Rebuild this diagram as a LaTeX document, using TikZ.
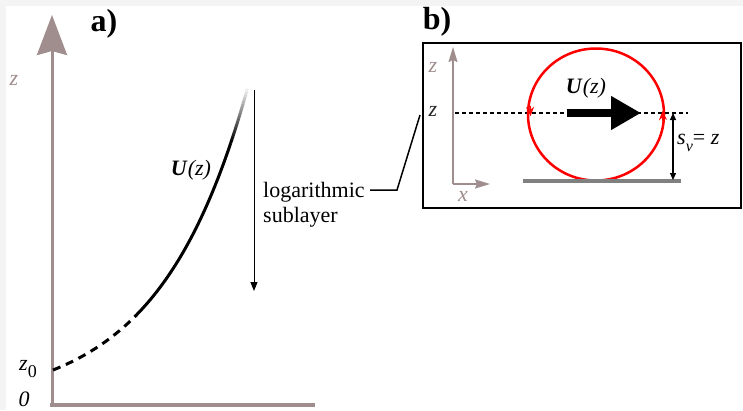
\documentclass[tikz,border=0pt]{standalone}
\usepackage{fontspec}
\setmainfont{Liberation Serif}
\usetikzlibrary{arrows.meta}
\definecolor{axisgray}{RGB}{160,142,142}
\definecolor{bggray}{RGB}{244,244,244}
\definecolor{groundgray}{RGB}{128,128,128}
\begin{document}
\begin{tikzpicture}[x=1pt,y=-1pt,
  lbl/.style={inner sep=0pt, font=\fontsize{22}{26}\selectfont},
  panel/.style={inner sep=0pt, font=\fontsize{32}{36}\selectfont\bfseries},
  curve/.style={line width=3pt},
  axisbig/.style={axisgray, line width=3pt},
  axissmall/.style={axisgray, line width=1.5pt, -{Stealth[length=15pt,width=9pt,inset=2pt]}},
  thinarrow/.style={line width=1pt, -{Triangle[length=9pt,width=7pt]}},
  leader/.style={line width=1.5pt},
  flowarrow/.style={line width=8pt, -{Triangle[length=30pt,width=32pt]}},
  marker/.style={red, line width=1.5pt, -{Stealth[length=9pt,width=8pt]}},
  dimarrow/.style={line width=1.2pt, {Triangle[length=7pt,width=6pt]}-{Triangle[length=7pt,width=6pt]}}
]
\useasboundingbox (0,0) rectangle (743,410);
\fill[bggray] (0,0) rectangle (743,410);
\fill[white] (6,6) rectangle (743,410);

% ---------- panel a ----------
\coordinate (abot) at (52,407);
\coordinate (atop) at (52,15);
\coordinate (xl) at (50,405);
\coordinate (xr) at (315,405);
\draw[axisbig, -{Stealth[length=40pt,width=30pt,inset=4pt]}] (abot) -- (atop);
\draw[axisgray, line width=4pt] (xl) -- (xr);

\node[panel] (pa) at (104,24) {a)};
\node[lbl, text=axisgray] (za) at (14,80) {\itshape z};
\node[lbl] (z0) at (28,369) {\itshape z\raisebox{-0.3em}{\upshape\fontsize{18}{20}\selectfont 0}};
\node[lbl] (zero) at (24,399) {\itshape 0};

% logarithmic profile
\draw[curve, dash pattern=on 8pt off 6pt] plot[domain=35:90,samples=30] ({53+88.3*ln(\x/35)},{405-\x});
\draw[curve] plot[domain=89:262,samples=60] ({53+88.3*ln(\x/35)},{405-\x});
\foreach \i in {0,...,17} {
  \pgfmathsetmacro\za{262+\i*3}
  \pgfmathsetmacro\zb{\za+3.3}
  \pgfmathsetmacro\cc{100-\i*5.5}
  \draw[curve, color=black!\cc] plot[domain=\za:\zb,samples=3] ({53+88.3*ln(\x/35)},{405-\x});
}
\node[lbl] (ua) at (191,170) {\textbf{\textit{U}}\textit{(z)}};

\coordinate (ls) at (254,90);
\coordinate (le) at (254,291);
\draw[thinarrow] (ls) -- (le);
\node[lbl, anchor=base west] (log1) at (263,197) {logarithmic};
\node[lbl, anchor=base west] (log2) at (263,222) {sublayer};

\coordinate (l1) at (370,190);
\coordinate (l2) at (397,190);
\coordinate (l3) at (420,115);
\draw[leader] (l1) -- (l2) -- (l3);

% ---------- panel b ----------
\node[panel] (pb) at (437,22) {b)};
\node[draw, line width=2pt, minimum width=318pt, minimum height=165pt, inner sep=0pt] (boxb) at (582,125.5) {};

\coordinate (o) at (453,184);
\coordinate (oz) at (453,47);
\coordinate (ox) at (490,184);
\draw[axissmall] (o) -- (oz);
\draw[axissmall] (o) -- (ox);
\node[lbl, text=axisgray] (zb1) at (433,67) {\itshape z};
\node[lbl, text=black!85] (zb2) at (433,111) {\itshape z};
\node[lbl, text=axisgray] (xb) at (463,196) {\itshape x};

\coordinate (d1) at (455,113);
\coordinate (d2) at (688,113);
\draw[line width=1.2pt, dash pattern=on 4pt off 3pt] (d1) -- (d2);

\coordinate (cc) at (596,114.5);
\draw[red, line width=2.5pt] (cc) ellipse [x radius=68, y radius=66];
\coordinate (mL1) at (530,106);
\coordinate (mL2) at (530.6,116);
\coordinate (mR1) at (663,121);
\coordinate (mR2) at (662.4,111);
\draw[marker] (mL1) -- (mL2);
\draw[marker] (mR1) -- (mR2);

\coordinate (f1) at (567,113);
\coordinate (f2) at (641,113);
\draw[flowarrow] (f1) -- (f2);
\node[lbl] (ub) at (586,88) {\textbf{\textit{U}}\textit{(z)}};

\coordinate (g1) at (523,180.5);
\coordinate (g2) at (681,180.5);
\draw[groundgray, line width=4pt] (g1) -- (g2);

\coordinate (s1) at (673,113);
\coordinate (s2) at (673,180);
\draw[dimarrow] (s1) -- (s2);
\node[lbl, anchor=west] (sv) at (677,143) {\itshape s\raisebox{-0.3em}{\fontsize{16}{18}\selectfont\itshape v}\upshape=\ \itshape z};
\end{tikzpicture}
\end{document}
